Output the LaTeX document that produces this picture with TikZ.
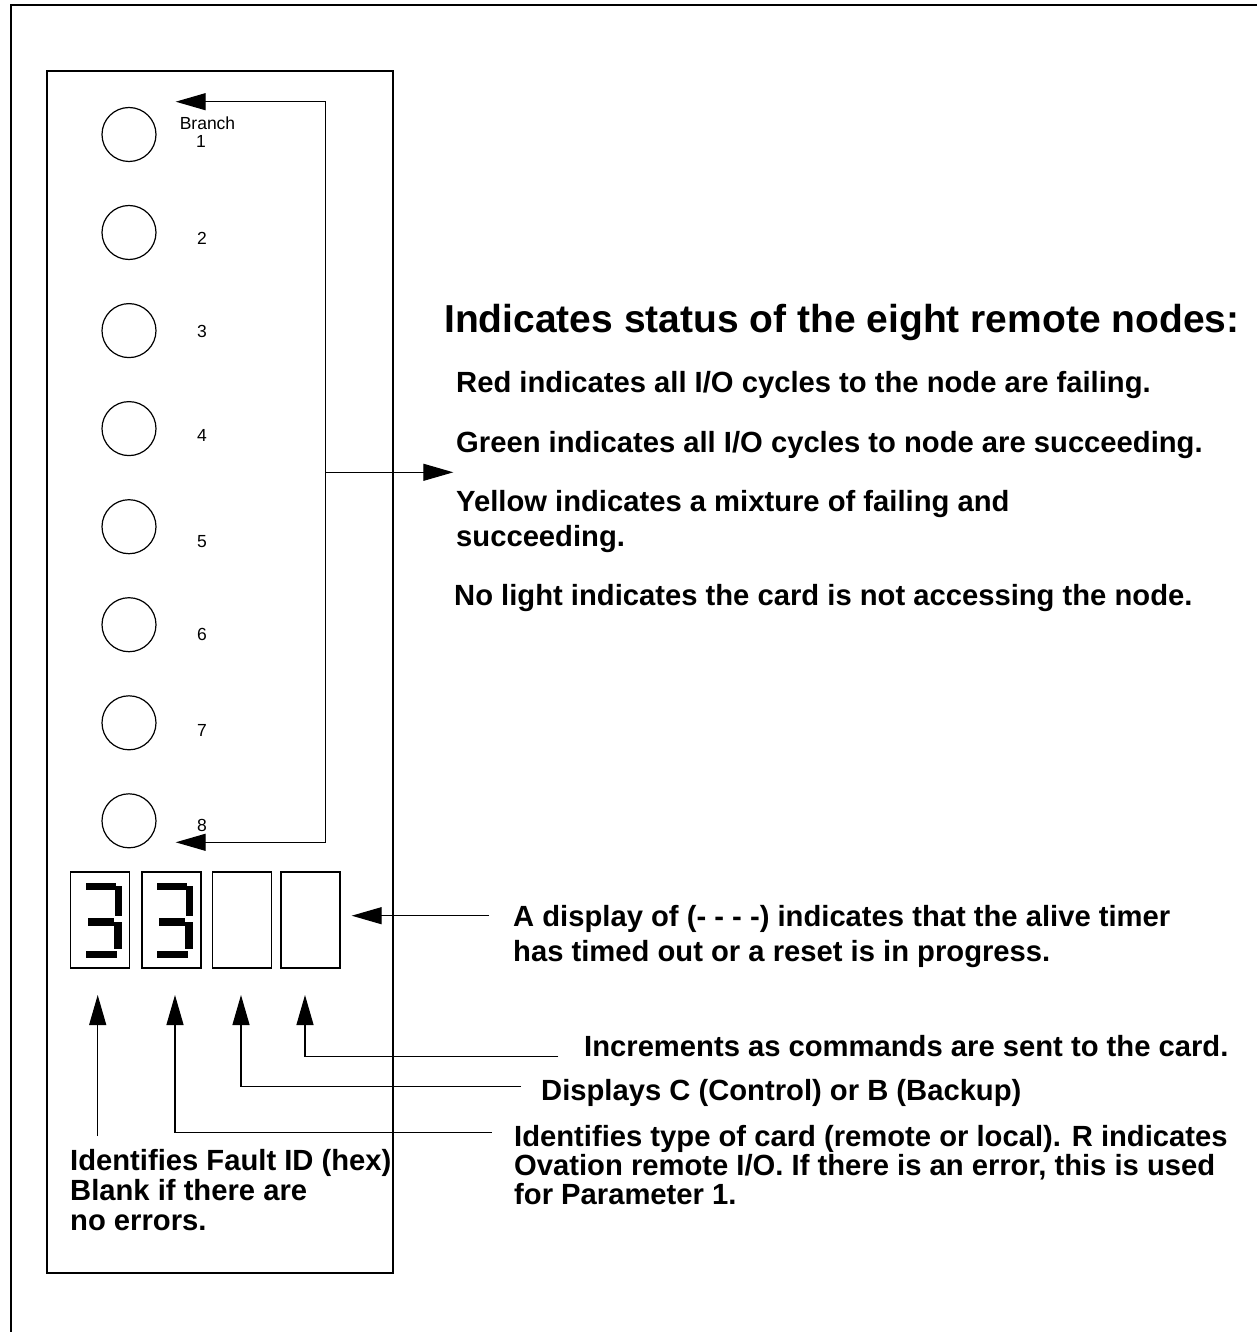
\documentclass[tikz,border=0pt]{standalone}
\usepackage{fontspec}
\setmainfont{Liberation Sans}
\usepackage{tikz}
\usetikzlibrary{arrows.meta}

\begin{document}
\begin{tikzpicture}[x=1pt,y=-1pt,
  lamp/.style={draw,circle,line width=1.2pt,minimum size=54pt,inner sep=0},
  seg/.style={draw,line width=1.2pt,minimum width=59pt,minimum height=96pt,inner sep=0},
  lbl/.style={font=\fontsize{17.5}{20}\selectfont,inner sep=0,anchor=base},
  txt/.style={font=\fontsize{29.2}{#1}\selectfont\bfseries,inner sep=0,anchor=base west,align=left},
  txt/.default=35,
  head/.style={font=\fontsize{39}{45}\selectfont\bfseries,inner sep=0,anchor=base west},
  arr/.style={-{Triangle[length=30pt,width=17pt]},line width=1.2pt},
  segthree/.pic={
    \fill (16,12) rectangle (46,19);
    \fill (45,15) rectangle (52,45);
    \fill (18,47) rectangle (44,55);
    \fill (44,51) rectangle (52,78);
    \fill (16,80) rectangle (47,87);}]
  \useasboundingbox (0,0) rectangle (1257,1332);
  \draw[line width=2.2pt] (11,1332) -- (11,5) -- (1257,5);
  \draw[line width=1.8pt] (47,71) rectangle (393,1273);

  % branch lamps
  \node[lamp] (b1) at (129,134.5) {};
  \node[lamp] (b2) at (129,232.5) {};
  \node[lamp] (b3) at (129,330.6) {};
  \node[lamp] (b4) at (129,428.6) {};
  \node[lamp] (b5) at (129,526.7) {};
  \node[lamp] (b6) at (129,624.7) {};
  \node[lamp] (b7) at (129,722.8) {};
  \node[lamp] (b8) at (129,820.8) {};
  \node[lbl] (br) at (207.5,130) {Branch};
  \node[lbl] (n1) at (201,148) {1};
  \node[lbl] (n2) at (202,245) {2};
  \node[lbl] (n3) at (202,337.5) {3};
  \node[lbl] (n4) at (202,441.5) {4};
  \node[lbl] (n5) at (202,547.5) {5};
  \node[lbl] (n6) at (202,640.5) {6};
  \node[lbl] (n7) at (202,736.5) {7};
  \node[lbl] (n8) at (202,831.5) {8};

  % status display
  \node[seg] (d1) at (100,920) {};
  \node[seg] (d2) at (171.5,920) {};
  \node[seg] (d3) at (242,920) {};
  \node[seg] (d4) at (310.5,920) {};
  \pic at (d1.north west) {segthree};
  \pic at (d2.north west) {segthree};

  % texts (multi-line ones sit on their last baseline)
  \node[head] (status) at (444,332) {Indicates status of the eight remote nodes:};
  \node[txt] (red) at (456,392) {Red indicates all I/O cycles to the node are failing.};
  \node[txt] (green) at (456,452.7) {Green indicates all I/O cycles to node are succeeding.};
  \node[txt] (yellow) at (456,546.7) {Yellow indicates a mixture of failing and\\succeeding.};
  \node[txt] (nolight) at (454,605) {No light indicates the card is not accessing the node.};
  \node[txt] (dashes) at (513,961.7) {A display of (- - - -) indicates that the alive timer\\has timed out or a reset is in progress.};
  \node[txt] (incr) at (584,1056) {Increments as commands are sent to the card.};
  \node[txt] (ctrl) at (541,1100) {Displays C (Control) or B (Backup)};
  \node[txt=29] (type) at (514,1204) {Identifies type of card (remote or local). R indicates\\Ovation remote I/O. If there is an error, this is used\\for Parameter 1.};
  \node[txt=30] (fault) at (70,1230.7) {Identifies Fault ID (hex)\\Blank if there are\\no errors.};

  % connectors
  \coordinate (t1) at (175.7,101.7);
  \coordinate (t8) at (175.7,842.3);
  \coordinate (jt) at (325.7,101.7);
  \coordinate (jb) at (325.7,842.3);
  \coordinate (jm) at (325.7,472.3);
  \coordinate (tm) at (453.3,472.3);
  \draw[arr] (jb) -- (jt) -- (t1);
  \draw[arr] (jb) -- (t8);
  \draw[arr] (jm) -- (tm);
  \coordinate (dd) at (489,915.7);
  \coordinate (td) at (351.7,915.7);
  \draw[arr] (dd) -- (td);
  \coordinate (u1) at (97.7,995);
  \coordinate (u2) at (175,995);
  \coordinate (u3) at (241,995);
  \coordinate (u4) at (305,995);
  \coordinate (e1) at (97.7,1136);
  \coordinate (e2) at (491.7,1132.7);
  \coordinate (e3) at (521,1086.7);
  \coordinate (e4) at (558.3,1056.7);
  \draw[arr] (e1) -- (u1);
  \draw[arr] (e2) -| (u2);
  \draw[arr] (e3) -| (u3);
  \draw[arr] (e4) -| (u4);
\end{tikzpicture}
\end{document}
